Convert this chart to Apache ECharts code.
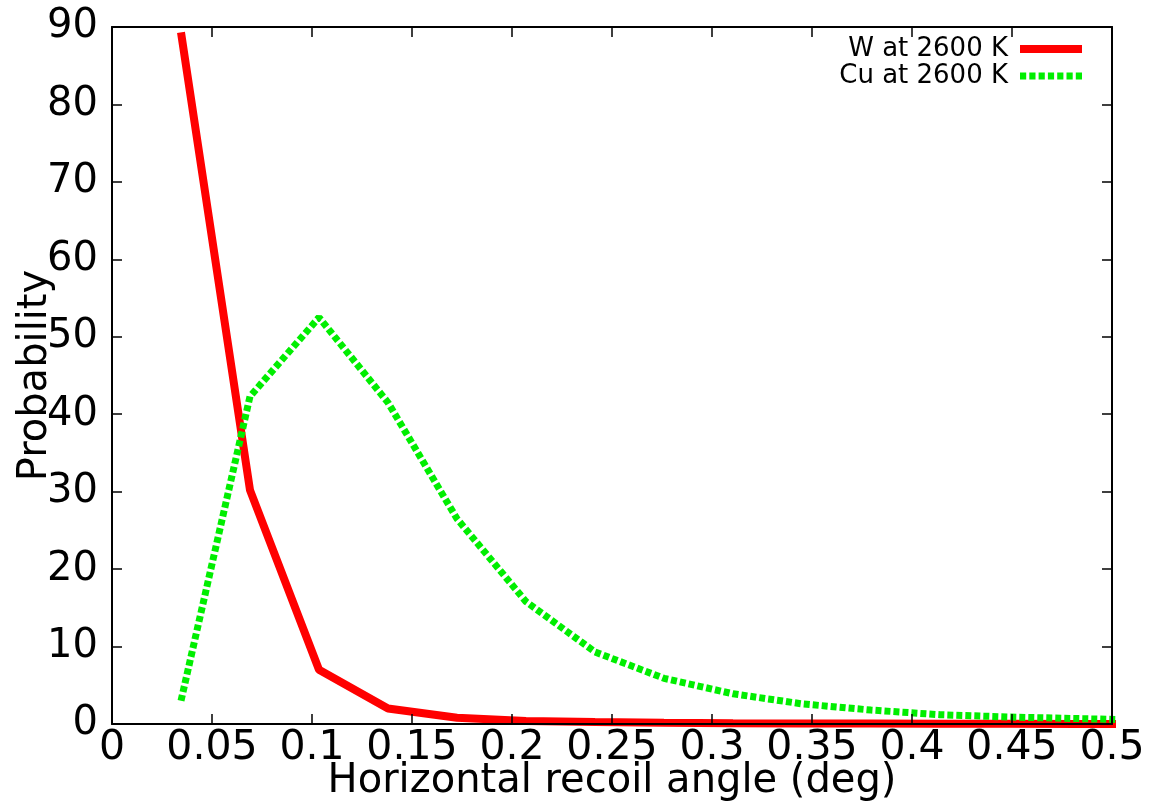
<!DOCTYPE html>
<html>
<head>
<meta charset="utf-8">
<script src="https://cdn.jsdelivr.net/npm/echarts@6/dist/echarts.min.js"></script>
<style>
  html, body { margin: 0; padding: 0; background: #fff; }
  #chart { width: 1157px; height: 805px; }
</style>
</head>
<body>
<div id="chart"></div>
<script>
// recoil angle of each histogram point (deg)
const angles = [0.0345, 0.069, 0.1035, 0.138, 0.1725, 0.207, 0.2415, 0.276,
  0.3105, 0.345, 0.3795, 0.414, 0.4485, 0.483, 0.5175]
// probability, W at 2600 K
const wProb = [89.3, 30.2, 7.0, 2.0, 0.8, 0.4, 0.25, 0.15, 0.1, 0.07, 0.05,
  0.03, 0.02, 0.01, 0.01]
// probability, Cu at 2600 K
const cuProb = [3.0, 42.3, 52.5, 41.5, 26.5, 15.8, 9.3, 5.9, 3.9, 2.6, 1.8,
  1.2, 0.9, 0.7, 0.5]
const xTicks = [0, 0.05, 0.1, 0.15, 0.2, 0.25, 0.3, 0.35, 0.4, 0.45, 0.5]
const yTicks = [0, 10, 20, 30, 40, 50, 60, 70, 80, 90]

const font = 'DejaVu Sans'
const pairs = (ys) => angles.map((a, i) => [a, ys[i]])

// legend keys: a solid bar and a row of square dots
const solidKey = 'path://M0,0h62v8h-62z'
let dotKey = 'path://'
for (let i = 0; i < 7; i++) dotKey += 'M' + (i * 9) + ',0h6v7h-6z'

const myChart = echarts.init(document.getElementById('chart'))

const frame = {
  axisLine: { show: true, onZero: false, lineStyle: { color: '#000', width: 2 } },
  axisTick: { show: true, inside: true, length: 10, lineStyle: { color: '#000', width: 1.5 } },
  splitLine: { show: false },
}

myChart.setOption({
  animation: false,
  backgroundColor: '#fff',
  grid: { left: 112, right: 45, top: 27, bottom: 81, outerBoundsMode: 'none', containLabel: false },
  legend: {
    orient: 'vertical',
    align: 'right',
    right: 70,
    top: 31,
    itemWidth: 62,
    itemHeight: 8,
    itemGap: 1,
    textStyle: { fontFamily: font, fontSize: 26, color: '#000', lineHeight: 24, padding: [0, 7, 0, 0] },
    data: [
      { name: 'W at 2600 K', icon: solidKey },
      { name: 'Cu at 2600 K', icon: dotKey },
    ],
  },
  xAxis: [
    {
      type: 'value',
      min: xTicks[0],
      max: xTicks[xTicks.length - 1],
      interval: 0.05,
      z: 10,
      ...frame,
      axisLabel: {
        fontFamily: font, fontSize: 41, color: '#000', margin: 4,
        formatter: (v) => String(parseFloat(v.toFixed(2))),
      },
      name: 'Horizontal recoil angle (deg)',
      nameLocation: 'middle',
      nameGap: 38,
      nameMoveOverlap: false,
      nameTextStyle: { fontFamily: font, fontSize: 40, color: '#000' },
    },
    {
      type: 'value',
      position: 'top',
      min: xTicks[0],
      max: xTicks[xTicks.length - 1],
      interval: 0.05,
      z: 10,
      ...frame,
      axisLabel: { show: false },
    },
  ],
  yAxis: [
    {
      type: 'value',
      min: yTicks[0],
      max: yTicks[yTicks.length - 1],
      interval: 10,
      z: 10,
      ...frame,
      axisLabel: { fontFamily: font, fontSize: 40, color: '#000', margin: 14 },
      name: 'Probability',
      nameLocation: 'middle',
      nameGap: 56,
      nameMoveOverlap: false,
      nameTextStyle: { fontFamily: font, fontSize: 40, color: '#000' },
    },
    {
      type: 'value',
      position: 'right',
      min: yTicks[0],
      max: yTicks[yTicks.length - 1],
      interval: 10,
      z: 10,
      ...frame,
      axisLabel: { show: false },
    },
  ],
  series: [
    {
      name: 'W at 2600 K',
      type: 'line',
      data: pairs(wProb),
      symbol: 'none',
      lineStyle: { color: '#ff0000', width: 8 },
      itemStyle: { color: '#ff0000' },
    },
    {
      name: 'Cu at 2600 K',
      type: 'line',
      data: pairs(cuProb),
      symbol: 'none',
      lineStyle: { color: '#00ee00', width: 7, type: [6, 3] },
      itemStyle: { color: '#00ee00' },
    },
  ],
})
</script>
</body>
</html>
